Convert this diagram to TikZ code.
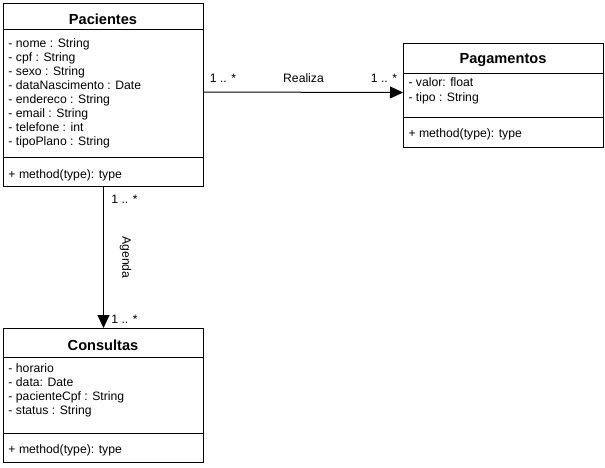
\documentclass[tikz,border=0pt]{standalone}
\usepackage{fontspec}
\setmainfont{Liberation Sans}
\usepackage{tikz}
\usetikzlibrary{
    arrows.meta,
    positioning
}
\tikzset{
    classbox/.style={draw, anchor=north west, inner sep=0pt, minimum width=200pt},
    classname/.style={anchor=base, inner sep=0pt, font=\fontsize{14.6}{17}\selectfont\bfseries},
    attr/.style={anchor=base west, inner sep=0pt, font=\fontsize{12.2}{14}\selectfont},
    mult/.style={inner sep=0pt, font=\fontsize{12.2}{14}\selectfont},
    assoc/.style={-{Triangle[length=13pt, width=12pt]}}
}

\begin{document}
\begin{tikzpicture}[x=1pt, y=-1pt, line width=1pt]
                        \useasboundingbox (0, 0) rectangle (605, 467);
                        \begin{scope}[shift={(3, 3)}]
                            \node[classbox, minimum height=183pt] (pac) at (0, 0) {};
                            \node[classname] (pacname) at (100, 21) {Pacientes};
                            \node[attr] (pacA1) at (5, 44) {- nome : String};
                            \node[attr] (pacA2) at (5, 58) {- cpf : String};
                            \node[attr] (pacA3) at (5, 72) {- sexo : String};
                            \node[attr] (pacA4) at (5, 86) {- dataNascimento : Date};
                            \node[attr] (pacA5) at (5, 100) {- endereco : String};
                            \node[attr] (pacA6) at (5, 114) {- email : String};
                            \node[attr] (pacA7) at (5, 128) {- telefone : int};
                            \node[attr] (pacA8) at (5, 142) {- tipoPlano : String};
                            \node[attr] (pacM1) at (5, 175) {+ method(type): type};
                            \draw
                            (0, 26) -- (200, 26)
                            (0, 154) -- (200, 154);
                        \end{scope}
                        \begin{scope}[shift={(403, 43)}]
                            \node[classbox, minimum height=104pt] (pag) at (0, 0) {};
                            \node[classname] (pagname) at (100, 20) {Pagamentos};
                            \node[attr] (pagA1) at (5, 43) {- valor: float};
                            \node[attr] (pagA2) at (5, 58) {- tipo : String};
                            \node[attr] (pagM1) at (5, 94) {+ method(type): type};
                            \draw
                            (0, 30) -- (200, 30)
                            (0, 74) -- (200, 74);
                        \end{scope}
                        \begin{scope}[shift={(3, 328)}]
                            \node[classbox, minimum height=134pt] (con) at (0, 0) {};
                            \node[classname] (conname) at (100, 22) {Consultas};
                            \node[attr] (conA1) at (5, 44) {- horario};
                            \node[attr] (conA2) at (5, 58) {- data: Date};
                            \node[attr] (conA3) at (5, 72) {- pacienteCpf : String};
                            \node[attr] (conA4) at (5, 86) {- status : String};
                            \node[attr] (conM1) at (5, 125) {+ method(type): type};
                            \draw
                            (0, 29) -- (200, 29)
                            (0, 105) -- (200, 105);
                        \end{scope}
                        \draw
                        ([yshift=3pt]pac.east) edge[assoc]
                            node[mult, midway, yshift=14pt] (realiza) {Realiza}
                            node[mult, pos=0, xshift=19pt, yshift=14pt] (realizaA) {1 .. *}
                            node[mult, pos=1, xshift=-19pt, yshift=14pt] (realizaB) {1 .. *}
                        ([yshift=3pt]pag.west)
                        (pac.south) edge[assoc]
                            node[mult, midway, xshift=22pt, rotate=-90] (agenda) {Agenda}
                            node[mult, pos=0, xshift=21pt, yshift=-12pt] (agendaA) {1 .. *}
                            node[mult, pos=1, xshift=21pt, yshift=9pt] (agendaB) {1 .. *}
                        (con.north);
                    \end{tikzpicture}
\end{document}
